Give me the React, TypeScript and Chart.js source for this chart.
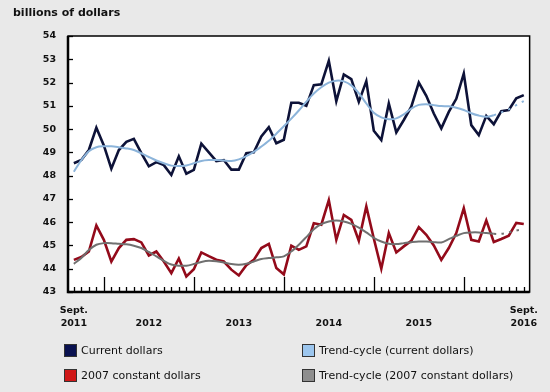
import React, { useEffect, useRef } from "react";
import { Chart, registerables } from "chart.js";

Chart.register(...registerables);

// Monthly categories, Sept. 2011 to Sept. 2016
const months: string[] = [];
for (let i = 0; i < 61; i++) {
  const m = (8 + i) % 12;
  const y = 2011 + Math.floor((8 + i) / 12);
  months.push(`${y}-${String(m + 1).padStart(2, "0")}`);
}

const currentDollars = [
  48.53, 48.67, 49.1, 50.06, 49.3, 48.3, 49.1, 49.45, 49.58, 48.97,
  48.4, 48.58, 48.45, 48.03, 48.83, 48.08, 48.25, 49.37, 49.0, 48.62,
  48.67, 48.26, 48.26, 48.96, 49.0, 49.68, 50.08, 49.39, 49.54, 51.13,
  51.13, 51.0, 51.89, 51.92, 52.93, 51.2, 52.35, 52.15, 51.17, 52.06,
  49.93, 49.53, 51.1, 49.86, 50.39, 50.96, 52.0, 51.43, 50.67, 50.03,
  50.74, 51.3, 52.39, 50.17, 49.74, 50.57, 50.21, 50.77, 50.82, 51.32,
  51.46,
];

const trendCurrent = [
  48.17, 48.67, 49.05, 49.22, 49.26, 49.26, 49.22, 49.17, 49.1, 48.96,
  48.8, 48.65, 48.53, 48.43, 48.41, 48.44, 48.53, 48.63, 48.67, 48.67,
  48.65, 48.63, 48.7, 48.84, 49.02, 49.25, 49.5, 49.8, 50.12, 50.45,
  50.8, 51.18, 51.53, 51.8, 52.0, 52.08, 52.05, 51.88, 51.55, 51.1,
  50.7, 50.5, 50.42, 50.46, 50.63, 50.88, 51.04, 51.07, 51.03, 50.99,
  50.98, 50.92, 50.82, 50.68, 50.58, 50.53, 50.6, 50.72, 50.85, 51.03,
  51.2,
];

const constantDollars = [
  44.38, 44.5, 44.74, 45.86, 45.24, 44.31, 44.89, 45.24, 45.27, 45.13,
  44.57, 44.74, 44.31, 43.81, 44.44, 43.67, 43.98, 44.7, 44.54, 44.39,
  44.31, 43.96, 43.71, 44.15, 44.38, 44.89, 45.07, 44.03, 43.76, 44.99,
  44.81, 44.96, 45.95, 45.89, 46.95, 45.24, 46.31, 46.1, 45.2, 46.68,
  45.3, 44.0, 45.53, 44.7, 44.96, 45.2, 45.79, 45.46, 45.0, 44.38,
  44.89, 45.53, 46.6, 45.24, 45.17, 46.08, 45.15, 45.28, 45.42, 45.97,
  45.92,
];

const trendConstant = [
  44.21, 44.46, 44.8, 45.03, 45.1, 45.1, 45.07, 45.05, 44.99, 44.89,
  44.72, 44.53, 44.34, 44.18, 44.13, 44.13, 44.2, 44.29, 44.34, 44.32,
  44.27, 44.2, 44.17, 44.21, 44.31, 44.42, 44.46, 44.49, 44.53, 44.74,
  45.03, 45.36, 45.7, 45.92, 46.03, 46.07, 46.03, 45.93, 45.77, 45.56,
  45.33, 45.17, 45.07, 45.06, 45.1, 45.14, 45.17, 45.17, 45.14, 45.13,
  45.27, 45.41, 45.53, 45.56, 45.56, 45.53, 45.5, 45.5, 45.56, 45.64,
  45.7,
];

// first month index whose trend segment is preliminary (dotted)
const provisionalFrom = 56;

const xLabelPositions = [0, 10, 22, 34, 46, 60];
const xLabelText = [
  ["Sept.", "2011"],
  ["", "2012"],
  ["", "2013"],
  ["", "2014"],
  ["", "2015"],
  ["Sept.", "2016"],
];

const yMin = 43;
const yMax = 54;

const legendItems = [
  { label: "Current dollars", color: "#0a1250" },
  { label: "Trend-cycle (current dollars)", color: "#9cc6ee" },
  { label: "2007 constant dollars", color: "#d01818" },
  { label: "Trend-cycle (2007 constant dollars)", color: "#8e8e8e" },
];

const FONT = "'DejaVu Sans', Verdana, sans-serif";

const toPoints = (arr: number[]) => arr.map((y, i) => ({ x: i, y }));

const frame = {
  id: "frame",
  afterDraw(chart: any) {
    const { ctx, chartArea: a, scales } = chart;
    const xs = scales.x;
    const ys = scales.y;
    ctx.save();
    ctx.strokeStyle = "#000";
    ctx.lineWidth = 1.3;
    months.forEach((m, i) => {
      const x = Math.round(xs.getPixelForValue(i)) + 0.5;
      const len = m.endsWith("-01") ? 15 : 5;
      ctx.beginPath();
      ctx.moveTo(x, a.bottom);
      ctx.lineTo(x, a.bottom - len);
      ctx.stroke();
    });
    for (let v = yMin; v <= yMax; v++) {
      const y = Math.round(ys.getPixelForValue(v)) + 0.5;
      ctx.beginPath();
      ctx.moveTo(a.left, y);
      ctx.lineTo(a.left + 5, y);
      ctx.stroke();
    }
    ctx.lineWidth = 1.5;
    ctx.strokeRect(a.left, a.top, a.right - a.left, a.bottom - a.top);
    ctx.lineWidth = 2.5;
    ctx.beginPath();
    ctx.moveTo(a.left, a.top);
    ctx.lineTo(a.left, a.bottom);
    ctx.lineTo(a.right, a.bottom);
    ctx.stroke();
    ctx.restore();
  },
};

const whiteArea = {
  id: "whiteArea",
  beforeDraw(chart: any) {
    const { ctx, chartArea: a } = chart;
    ctx.save();
    ctx.fillStyle = "#ffffff";
    ctx.fillRect(a.left, a.top, a.right - a.left, a.bottom - a.top);
    ctx.restore();
  },
};

export default function App() {
  const ref = useRef<HTMLCanvasElement | null>(null);

  useEffect(() => {
    document.body.style.margin = "0";
    if (!ref.current) return;
    const dashed = (ctx: any) =>
      ctx.p0DataIndex >= provisionalFrom ? [2.5, 5.2] : undefined;
    const chart = new Chart(ref.current, {
      type: "line",
      data: {
        datasets: [
          {
            label: "Trend-cycle (current dollars)",
            data: toPoints(trendCurrent),
            borderColor: "#8cb4da",
            borderWidth: 2,
            pointRadius: 0,
            tension: 0.3,
            segment: { borderDash: dashed },
          },
          {
            label: "Trend-cycle (2007 constant dollars)",
            data: toPoints(trendConstant),
            borderColor: "#707070",
            borderWidth: 2,
            pointRadius: 0,
            tension: 0.3,
            segment: { borderDash: dashed },
          },
          {
            label: "Current dollars",
            data: toPoints(currentDollars),
            borderColor: "#0d1238",
            borderWidth: 2.6,
            pointRadius: 0,
            tension: 0,
          },
          {
            label: "2007 constant dollars",
            data: toPoints(constantDollars),
            borderColor: "#930a1a",
            borderWidth: 2.6,
            pointRadius: 0,
            tension: 0,
          },
        ],
      },
      options: {
        animation: false,
        responsive: false,
        layout: { padding: { top: 36, right: 8, bottom: 60, left: 0 } },
        plugins: {
          legend: { display: false },
          tooltip: { enabled: false },
          title: { display: false },
        },
        scales: {
          x: {
            type: "linear",
            min: -0.78,
            max: 60.78,
            grid: { display: false, drawTicks: false },
            border: { display: false },
            afterFit: (axis: any) => {
              axis.height = 40;
            },
            afterBuildTicks: (axis: any) => {
              axis.ticks = xLabelPositions.map((v) => ({ value: v }));
            },
            ticks: {
              autoSkip: false,
              maxRotation: 0,
              padding: 12,
              color: "#111",
              font: { family: FONT, size: 9.5, weight: "bold", lineHeight: 1.4 },
              callback: (_v: any, idx: number) => xLabelText[idx],
            },
          },
          y: {
            min: yMin,
            max: yMax,
            grid: { display: false, drawTicks: false },
            border: { display: false },
            afterFit: (axis: any) => {
              axis.width = 68;
            },
            ticks: {
              stepSize: 1,
              padding: 12,
              color: "#111",
              font: { family: FONT, size: 9.5, weight: "bold" },
            },
          },
        },
      },
      plugins: [whiteArea, frame],
    } as any);
    return () => chart.destroy();
  }, []);

  const legendPos = [
    { left: 64, top: 344 },
    { left: 302, top: 344 },
    { left: 64, top: 369 },
    { left: 302, top: 369 },
  ];

  return (
    <div
      style={{
        position: "relative",
        width: 550,
        height: 392,
        background: "#e9e9e9",
        overflow: "hidden",
      }}
    >
      <canvas ref={ref} width={550} height={392} style={{ display: "block" }} />
      <div
        style={{
          position: "absolute",
          left: 13,
          top: 6,
          font: `bold 11px ${FONT}`,
          color: "#111",
          lineHeight: "14px",
        }}
      >
        billions of dollars
      </div>
      {legendItems.map((it, i) => (
        <div
          key={it.label}
          style={{
            position: "absolute",
            left: legendPos[i].left,
            top: legendPos[i].top,
            display: "flex",
            alignItems: "center",
            font: `11px ${FONT}`,
            color: "#111",
            whiteSpace: "nowrap",
          }}
        >
          <span
            style={{
              display: "inline-block",
              width: 11,
              height: 11,
              background: it.color,
              border: "1px solid #333",
              marginRight: 4,
            }}
          />
          {it.label}
        </div>
      ))}
    </div>
  );
}
